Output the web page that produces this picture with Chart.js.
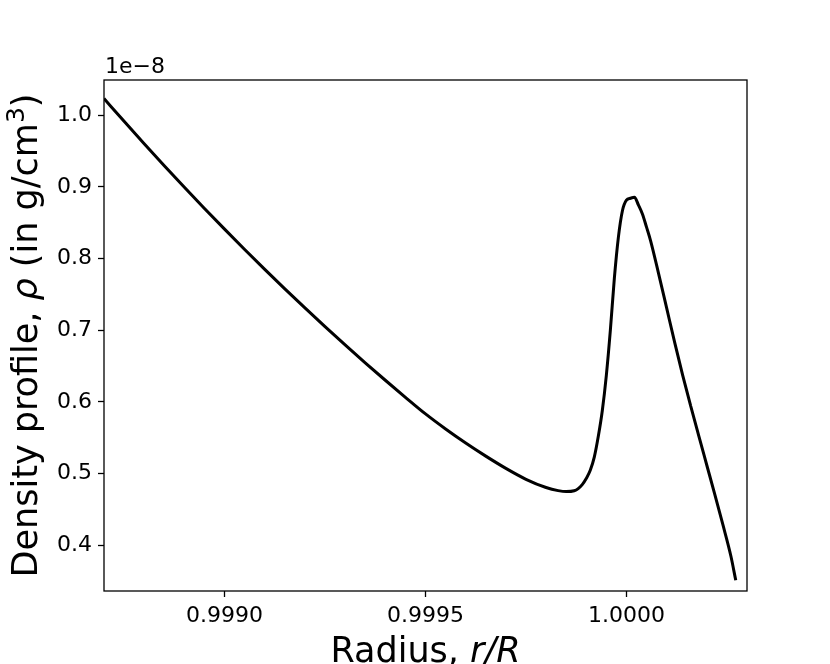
<!DOCTYPE html>
<html>
<head>
<meta charset="utf-8">
<script src="https://cdn.jsdelivr.net/npm/chart.js@4/dist/chart.umd.min.js"></script>
<style>
  html, body { margin: 0; padding: 0; background: #fff; }
  #wrap { width: 830px; height: 664px; }
</style>
</head>
<body>
<div id="wrap"><canvas id="c" width="830" height="664"></canvas></div>
<script>
// Radius r/R
const radius = [
  0.99870, 0.99875, 0.99880, 0.99885, 0.99890, 0.99895, 0.99900, 0.99905,
  0.99910, 0.99915, 0.99920, 0.99925, 0.99930, 0.99935, 0.99940, 0.99945,
  0.99950, 0.99955, 0.99960, 0.99965, 0.99970, 0.99975, 0.99980, 0.99983,
  0.99985, 0.99987, 0.99988, 0.99989, 0.99990, 0.99991, 0.99992, 0.99993,
  0.99994, 0.99995, 0.99996, 0.99997, 0.99998, 0.99999, 1.00000, 1.00001,
  1.00002, 1.00003, 1.00004, 1.00005, 1.00006, 1.00008, 1.00010, 1.00012,
  1.00014, 1.00016, 1.00018, 1.00020, 1.00022, 1.00024, 1.00026, 1.000272
];
// Density (in units of 1e-8 g/cm^3)
const density = [
  1.0233, 0.9915, 0.9603, 0.9296, 0.8995, 0.8700, 0.8411, 0.8127,
  0.7849, 0.7577, 0.7311, 0.7050, 0.6795, 0.6546, 0.6302, 0.6064,
  0.5832, 0.5622, 0.5426, 0.5243, 0.5072, 0.4920, 0.4805, 0.4762,
  0.4748, 0.4760, 0.4790, 0.4845, 0.4930, 0.5045, 0.5230, 0.5520,
  0.5880, 0.6370, 0.7000, 0.7730, 0.8300, 0.8668, 0.8815, 0.8842,
  0.8856, 0.8745, 0.8619, 0.8438, 0.8251, 0.7791, 0.7311, 0.6831,
  0.6371, 0.5941, 0.5526, 0.5116, 0.4706, 0.4286, 0.3846, 0.3510
];
const xTicks = [0.9990, 0.9995, 1.0000];
const yTicks = [0.4, 0.5, 0.6, 0.7, 0.8, 0.9, 1.0];
const offsetText = '1e\u22128';

const FONT = "'DejaVu Sans', sans-serif";
const TICK_PX = 22;
const TITLE_PX = 35;

function drawSegments(ctx, segs, cx, cy) {
  let total = 0;
  const widths = segs.map(s => {
    const size = s.sup ? Math.round(TITLE_PX * 0.7) : TITLE_PX;
    ctx.font = (s.italic ? 'italic ' : '') + size + 'px ' + FONT;
    const w = ctx.measureText(s.t).width;
    total += w;
    return w;
  });
  let x = cx - total / 2;
  segs.forEach((s, i) => {
    const size = s.sup ? Math.round(TITLE_PX * 0.7) : TITLE_PX;
    ctx.font = (s.italic ? 'italic ' : '') + size + 'px ' + FONT;
    ctx.fillText(s.t, x, s.sup ? cy - TITLE_PX * 0.38 : cy);
    x += widths[i];
  });
}

const decor = {
  id: 'decor',
  afterDraw(chart) {
    const { ctx, chartArea: a } = chart;
    ctx.save();
    ctx.strokeStyle = '#000';
    ctx.lineWidth = 1.3;
    ctx.strokeRect(a.left, a.top, a.right - a.left, a.bottom - a.top);
    ctx.fillStyle = '#000';
    ctx.textBaseline = 'alphabetic';
    ctx.textAlign = 'left';
    ctx.font = TICK_PX + 'px ' + FONT;
    ctx.fillText(offsetText, a.left + 1, a.top - 7);
    drawSegments(ctx, [
      { t: 'Radius, ' }, { t: 'r/R', italic: true }
    ], (a.left + a.right) / 2, 662);
    ctx.translate(37, (a.top + a.bottom) / 2);
    ctx.rotate(-Math.PI / 2);
    drawSegments(ctx, [
      { t: 'Density profile, ' }, { t: '\u03C1', italic: true },
      { t: ' (in g/cm' }, { t: '3', sup: true }, { t: ')' }
    ], 0, 0);
    ctx.restore();
  }
};

const points = radius.map((r, i) => ({ x: r, y: density[i] }));

new Chart(document.getElementById('c'), {
  type: 'line',
  data: {
    datasets: [{
      data: points,
      borderColor: '#000',
      borderWidth: 3,
      pointRadius: 0,
      fill: false,
      cubicInterpolationMode: 'monotone'
    }]
  },
  options: {
    responsive: false,
    animation: false,
    events: [],
    layout: { padding: { left: 0, top: 80, right: 83, bottom: 0 } },
    plugins: { legend: { display: false }, tooltip: { enabled: false } },
    scales: {
      x: {
        type: 'linear',
        min: 0.9987,
        max: 1.0003,
        afterBuildTicks: s => { s.ticks = xTicks.map(v => ({ value: v })); },
        afterFit: s => { s.height = 73; },
        ticks: {
          color: '#000',
          font: { family: FONT, size: TICK_PX },
          padding: 6,
          maxRotation: 0,
          autoSkip: false,
          callback: v => Number(v).toFixed(4)
        },
        grid: { drawOnChartArea: false, drawTicks: true, tickLength: 6, tickWidth: 1.3, tickColor: '#000' },
        border: { display: false }
      },
      y: {
        type: 'linear',
        min: 0.3361,
        max: 1.0492,
        afterBuildTicks: s => { s.ticks = yTicks.map(v => ({ value: v })); },
        afterFit: s => { s.width = 104; },
        ticks: {
          color: '#000',
          font: { family: FONT, size: TICK_PX },
          padding: 6,
          autoSkip: false,
          callback: v => Number(v).toFixed(1)
        },
        grid: { drawOnChartArea: false, drawTicks: true, tickLength: 6, tickWidth: 1.3, tickColor: '#000' },
        border: { display: false }
      }
    }
  },
  plugins: [decor]
});
</script>
</body>
</html>
